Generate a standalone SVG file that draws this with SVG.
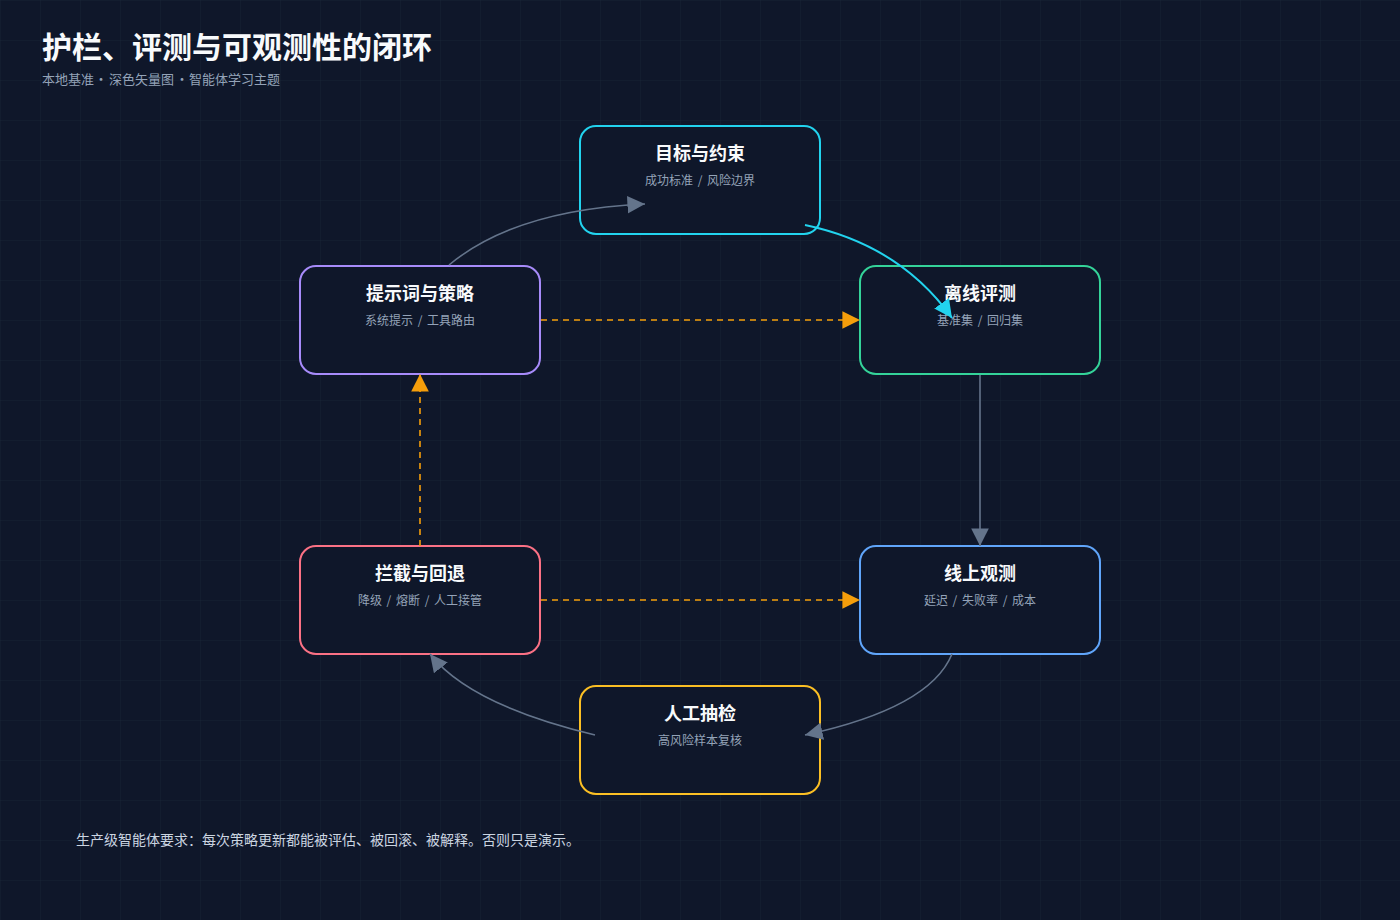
<svg xmlns="http://www.w3.org/2000/svg" width="1400" height="920" viewBox="0 0 1400 920">
<defs>
<pattern id="grid" width="40" height="40" patternUnits="userSpaceOnUse">
<path d="M40 0 L0 0 0 40" fill="none" stroke="#1e293b" stroke-width="1" opacity="0.6"/>
</pattern>
<marker id="ag" viewBox="0 0 10 10" refX="10" refY="5" markerWidth="11" markerHeight="11" orient="auto-start-reverse"><path d="M0,0 L10,5 L0,10 z" fill="#64748b"/></marker>
<marker id="ac" viewBox="0 0 10 10" refX="10" refY="5" markerWidth="9" markerHeight="9" orient="auto-start-reverse"><path d="M0,0 L10,5 L0,10 z" fill="#22d3ee"/></marker>
<marker id="ao" viewBox="0 0 10 10" refX="10" refY="5" markerWidth="11" markerHeight="11" orient="auto-start-reverse"><path d="M0,0 L10,5 L0,10 z" fill="#f59e0b"/></marker>
</defs>
<style>
text{font-family:"Noto Sans CJK SC","Noto Sans",sans-serif}
.box{fill:#0f172a;stroke-width:2}
.t{font-size:18px;font-weight:700;fill:#f8fafc;text-anchor:middle}
.s{font-size:12px;fill:#94a3b8;text-anchor:middle;word-spacing:2px}
.g{fill:none;stroke:#64748b;stroke-width:1.6}
.o{fill:none;stroke:#f59e0b;stroke-width:1.6;stroke-dasharray:6 5}
</style>
<rect width="1400" height="920" fill="#0f172a"/>
<rect width="1400" height="920" fill="url(#grid)"/>
<text x="42" y="58" font-size="30" font-weight="700" fill="#f8fafc">护栏、评测与可观测性的闭环</text>
<text y="84" font-size="13" fill="#94a3b8"><tspan x="42">本地基准</tspan><tspan x="101" text-anchor="middle">·</tspan><tspan x="109">深色矢量图</tspan><tspan x="182" text-anchor="middle">·</tspan><tspan x="189">智能体学习主题</tspan></text>
<g id="n-goal"><rect class="box" x="580" y="126" width="240" height="108" rx="16" stroke="#22d3ee"/><text class="t" x="700" y="160">目标与约束</text><text class="s" x="700" y="185">成功标准 / 风险边界</text></g>
<g id="n-prompt"><rect class="box" x="300" y="266" width="240" height="108" rx="16" stroke="#a78bfa"/><text class="t" x="420" y="300">提示词与策略</text><text class="s" x="420" y="325">系统提示 / 工具路由</text></g>
<g id="n-offline"><rect class="box" x="860" y="266" width="240" height="108" rx="16" stroke="#34d399"/><text class="t" x="980" y="300">离线评测</text><text class="s" x="980" y="325">基准集 / 回归集</text></g>
<g id="n-guard"><rect class="box" x="300" y="546" width="240" height="108" rx="16" stroke="#fb7185"/><text class="t" x="420" y="580">拦截与回退</text><text class="s" x="420" y="605">降级 / 熔断 / 人工接管</text></g>
<g id="n-online"><rect class="box" x="860" y="546" width="240" height="108" rx="16" stroke="#60a5fa"/><text class="t" x="980" y="580">线上观测</text><text class="s" x="980" y="605">延迟 / 失败率 / 成本</text></g>
<g id="n-human"><rect class="box" x="580" y="686" width="240" height="108" rx="16" stroke="#fbbf24"/><text class="t" x="700" y="720">人工抽检</text><text class="s" x="700" y="745">高风险样本复核</text></g>
<g id="connectors">
<path class="g" d="M449 265 Q515 210 645 204" marker-end="url(#ag)"/>
<path d="M805 225 Q900 245 952 318" fill="none" stroke="#22d3ee" stroke-width="2" marker-end="url(#ac)"/>
<path class="o" d="M541 320 L860 320" marker-end="url(#ao)"/>
<path class="g" d="M980 375 L980 546" marker-end="url(#ag)"/>
<path class="o" d="M541 600 L860 600" marker-end="url(#ao)"/>
<path class="g" d="M952 654 Q930 708 805 735" marker-end="url(#ag)"/>
<path class="g" d="M595 735 Q470 705 430 654" marker-end="url(#ag)"/>
<path class="o" d="M420 546 L420 374" marker-end="url(#ao)"/>
</g>
<text x="76" y="845" font-size="14" fill="#cbd5e1">生产级智能体要求：每次策略更新都能被评估、被回滚、被解释。否则只是演示。</text>
</svg>
